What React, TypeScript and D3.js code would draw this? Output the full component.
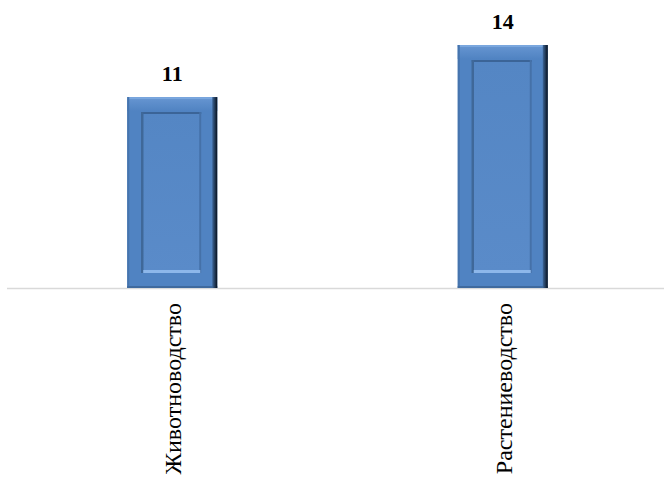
import React, { useEffect } from 'react';
import * as d3 from 'd3';

const categories = ['Животноводство', 'Растениеводство'];
const values = [11, 14];

const W = 664;
const H = 477;
const baseY = 288;

const App = () => {
  useEffect(() => {
    document.body.style.margin = '0';
  }, []);

  const x = d3.scaleBand<string>().domain(categories).range([7, 668]);
  const y = d3.scaleLinear().domain([0, 14]).range([baseY, 45]);
  const barW = 90;
  const inset = 14;

  return (
    <svg width={W} height={H} style={{ display: 'block', background: '#fff' }}>
      <defs>
        <linearGradient id="rightEdge" x1="0" x2="1" y1="0" y2="0">
          <stop offset="0" stopColor="#3d6698" />
          <stop offset="1" stopColor="#07101c" />
        </linearGradient>
        <linearGradient id="face" x1="0" x2="0" y1="0" y2="1">
          <stop offset="0" stopColor="#5486c4" />
          <stop offset="1" stopColor="#5a8bc9" />
        </linearGradient>
        <linearGradient id="topBand" x1="0" x2="0" y1="0" y2="1">
          <stop offset="0" stopColor="#6796d2" />
          <stop offset="1" stopColor="#5083c2" />
        </linearGradient>
      </defs>

      <line x1={7} x2={W} y1={baseY + 0.5} y2={baseY + 0.5} stroke="#d9d9d9" strokeWidth={1.5} />

      {categories.map((c, i) => {
        const cx = (x(c) as number) + x.bandwidth() / 2;
        const x0 = cx - barW / 2;
        const top = y(values[i]);
        const h = baseY - top;
        const ix0 = x0 + inset;
        const ix1 = x0 + barW - inset - 2;
        const iy0 = top + inset + 1;
        const iy1 = baseY - inset - 1;
        return (
          <g key={c}>
            {/* outer frame */}
            <rect x={x0} y={top} width={barW} height={h} fill="#5083c2" />
            <rect x={x0} y={top} width={barW} height={inset} fill="url(#topBand)" />
            <rect x={x0} y={top} width={barW - 3} height={2} fill="#7aa7de" />
            <rect x={x0} y={top} width={2} height={h} fill="#4674ad" />
            <rect x={x0} y={baseY - 2} width={barW} height={2} fill="#3f6a9e" />
            <rect x={x0 + barW - 5} y={top} width={5} height={h} fill="url(#rightEdge)" />
            {/* inner panel */}
            <rect x={ix0} y={iy0} width={ix1 - ix0} height={iy1 - iy0} fill="url(#face)" />
            <line x1={ix0} x2={ix1} y1={iy0 + 1} y2={iy0 + 1} stroke="#3b6497" strokeWidth={2} />
            <line x1={ix0 + 1} x2={ix0 + 1} y1={iy0} y2={iy1} stroke="#3f6899" strokeWidth={2.5} />
            <line x1={ix1 - 1} x2={ix1 - 1} y1={iy0} y2={iy1} stroke="#4571a8" strokeWidth={2} />
            <line x1={ix0 + 2} x2={ix1 - 1} y1={iy1 - 1.5} y2={iy1 - 1.5} stroke="#8db7ea" strokeWidth={3} />
            {/* value label */}
            <text
              x={cx}
              y={top - 16}
              textAnchor="middle"
              fontFamily="'Liberation Serif', 'Times New Roman', serif"
              fontWeight="bold"
              fontSize={22}
              fill="#000"
            >
              {values[i]}
            </text>
            {/* category label */}
            <text
              transform={`translate(${cx},${baseY + 15}) rotate(-90)`}
              dy="0.38em"
              textAnchor="end"
              fontFamily="'Liberation Serif', 'Times New Roman', serif"
              fontSize={24}
              fill="#000"
            >
              {c}
            </text>
          </g>
        );
      })}
    </svg>
  );
};

export default App;
